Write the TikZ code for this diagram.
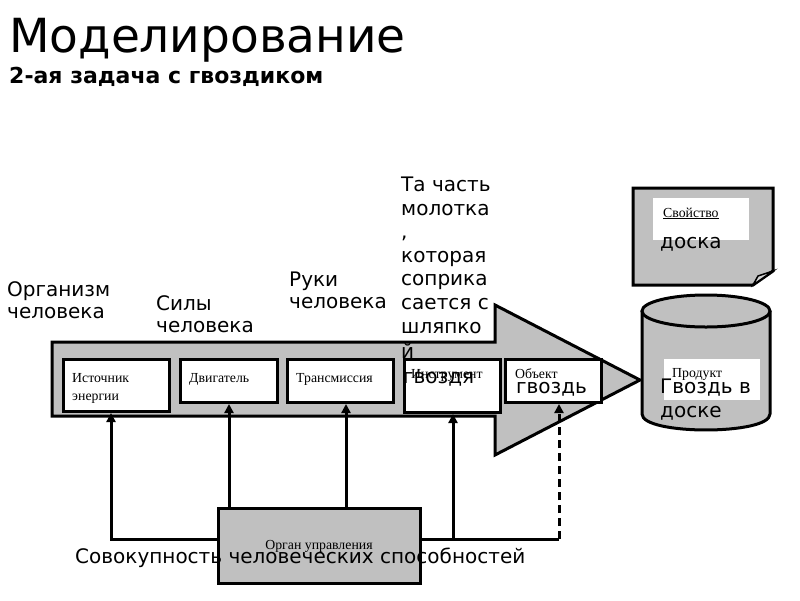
\documentclass[tikz,border=0pt]{standalone}
\usepackage{fontspec}
\setmainfont{DejaVu Sans}
\newfontfamily\serifrm{Liberation Serif}
\usetikzlibrary{arrows.meta}
\definecolor{gr}{RGB}{192,192,192}
\begin{document}
\begin{tikzpicture}[x=1pt,y=-1pt,
  lbl/.style={anchor=base west, inner sep=0, font=\fontsize{20}{24}\selectfont},
  sm/.style={anchor=base west, inner sep=0, font=\serifrm\fontsize{13.8}{16}\selectfont},
  ibox/.style={draw, line width=3pt, fill=white, anchor=north west, inner sep=0},
  wbox/.style={fill=white, anchor=north west, inner sep=0},
  thk/.style={line width=3pt},
  conn/.style={line width=3pt, -{Triangle[length=9pt,width=9pt]}}]
\useasboundingbox (0,0) rectangle (800,600);
% titles
\node[anchor=base west, inner sep=0, font=\fontsize{47}{50}\selectfont] (title) at (9,52) {Моделирование};
\node[anchor=base west, inner sep=0, font=\bfseries\fontsize{22}{26}\selectfont] (sub) at (9,83) {2-ая задача с гвоздиком};
% big arrow
\filldraw[fill=gr, thk] (52,342) -- (495,342) -- (495,305) -- (640,380) -- (495,455) -- (495,416) -- (52,416) -- cycle;
% inner boxes
\node[ibox, minimum width=106pt, minimum height=52pt] (src) at (62,358) {};
\node[ibox, minimum width=97pt, minimum height=43pt] (dv) at (179,358) {};
\node[ibox, minimum width=106pt, minimum height=43pt] (tr) at (286,358) {};
\node[ibox, minimum width=96pt, minimum height=53pt] (ins) at (403,358) {};
\node[ibox, minimum width=96pt, minimum height=43pt] (obj) at (504,358) {};
\node[sm] (srct1) at (72,382) {Источник};
\node[sm] (srct2) at (72,400) {энергии};
\node[sm] (dvt) at (189,382) {Двигатель};
\node[sm] (trt) at (296,382) {Трансмиссия};
\node[sm] (inst) at (411,378) {Инструмент};
\node[sm] (objt) at (515,378) {Объект};
% upper labels
\node[lbl] (org1) at (7,296) {Организм};
\node[lbl] (org2) at (7,318) {человека};
\node[lbl] (sil1) at (156,310) {Силы};
\node[lbl] (sil2) at (156,332) {человека};
\node[lbl] (ruk1) at (289,286) {Руки};
\node[lbl] (ruk2) at (289,308) {человека};
\node[lbl] (ta1) at (401,191) {Та часть};
\node[lbl] (ta2) at (401,215) {молотка};
\node[lbl] (ta3) at (401,238) {,};
\node[lbl] (ta4) at (401,262) {которая};
\node[lbl] (ta5) at (401,285) {соприка};
\node[lbl] (ta6) at (401,309) {сается с};
\node[lbl] (ta7) at (401,333) {шляпко};
\node[lbl] (ta8) at (401,358) {й};
\node[lbl] (ta9) at (403,383) {гвоздя};
\node[lbl] (gvz) at (516,393) {гвоздь};
% document shape
\filldraw[fill=gr, thk] (633,188) -- (773,188) -- (773,271) -- (753,285) -- (633,285) -- cycle;
\filldraw[fill=gr!70, line width=1.5pt] (753,285) -- (773,271) -- (758,276) -- cycle;
\node[wbox, minimum width=96pt, minimum height=42pt] (prop) at (653,198) {};
\node[sm] (propt) at (663,217) {\underline{Свойство}};
\node[lbl] (doska) at (660,248) {доска};
% cylinder
\fill[gr] (642,311) -- (642,414) .. controls (642,435.3) and (770,435.3) .. (770,414) -- (770,311) -- cycle;
\draw[thk, line join=round] (642,311) -- (642,414) .. controls (642,435.3) and (770,435.3) .. (770,414) -- (770,311);
\filldraw[fill=gr, thk] (706,311) ellipse[x radius=64pt, y radius=16pt];
\node[wbox, minimum width=96pt, minimum height=41pt] (prod) at (664,359) {};
\node[sm] (prodt) at (672,377) {Продукт};
\node[lbl] (gvd1) at (660,393) {Гвоздь в};
\node[lbl] (gvd2) at (660,417) {доске};
% control box
\node[draw, thk, fill=gr, anchor=north west, minimum width=202pt, minimum height=75pt, inner sep=0] (ctl) at (217,507) {};
\node[anchor=base, inner sep=0, font=\serifrm\fontsize{13.8}{16}\selectfont] (ctlt) at (319,549) {Орган управления};
% connectors
\coordinate (h1) at (111,539);
\coordinate (a2) at (229,500);
\coordinate (a3) at (346,500);
\coordinate (h4) at (453,539);
\coordinate (h5) at (559,539);
\draw[conn] (ctl.west |- h1) -- (h1) -- (h1 |- src.south);
\draw[conn] (ctl.north -| a2) -- (a2 |- dv.south);
\draw[conn] (ctl.north -| a3) -- (a3 |- tr.south);
\draw[thk] (ctl.east |- h1) -- (h5);
\draw[conn] (h4) -- (h4 |- ins.south);
\draw[conn, dash pattern=on 8pt off 5pt] (h5) -- (h5 |- obj.south);
\node[lbl] (sov) at (75,563) {Совокупность человеческих способностей};
\end{tikzpicture}
\end{document}
